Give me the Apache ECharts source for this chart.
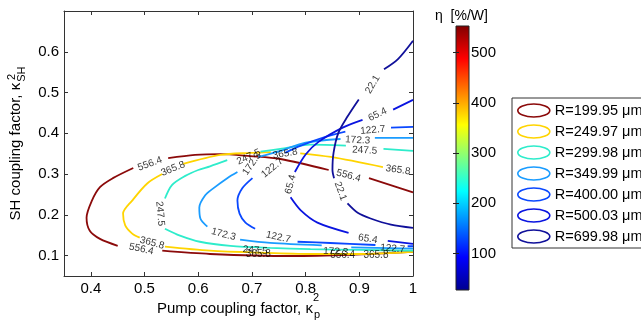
<!DOCTYPE html>
<html>
<head>
<meta charset="utf-8">
<script src="https://cdn.jsdelivr.net/npm/echarts@6.0.0/dist/echarts.min.js"></script>
<style>
html, body { margin: 0; background: #fff; }
#main { width: 641px; height: 329px; }
</style>
</head>
<body>
<div id="main"></div>
<script>
// contour levels (eta, %/W) and the cavity radius of each curve
var radii = ['R=199.95 μm', 'R=249.97 μm', 'R=299.98 μm', 'R=349.99 μm', 'R=400.00 μm', 'R=500.03 μm', 'R=699.98 μm'];
var levels = [556.4, 365.8, 247.5, 172.3, 122.7, 65.4, 22.1];
var xTicks = [0.4, 0.5, 0.6, 0.7, 0.8, 0.9, 1];
var yTicks = [0.1, 0.2, 0.3, 0.4, 0.5, 0.6];
var cbTicks = [100, 200, 300, 400, 500];

// traced contour points [kp2, kSH2], null = gap where the label sits
var c556 = [[1.0, 0.255], [0.918, 0.290], null, [0.843, 0.310], [0.753, 0.337], [0.697, 0.344], [0.641, 0.349], [0.594, 0.347], [0.544, 0.339], null,
    [0.479, 0.315], [0.441, 0.290], [0.417, 0.268], [0.402, 0.235], [0.392, 0.193], [0.398, 0.161], [0.417, 0.141], [0.450, 0.124], null,
    [0.533, 0.112], [0.622, 0.104], [0.772, 0.099], [0.884, 0.102], [1.0, 0.109]];
var c366 = [[0.944, 0.317], [0.847, 0.342], [0.790, 0.351], null, [0.735, 0.354], [0.697, 0.352], [0.641, 0.347], [0.572, 0.325], null,
    [0.533, 0.300], [0.505, 0.277], [0.477, 0.235], [0.460, 0.203], [0.464, 0.174], [0.477, 0.154], [0.491, 0.144], null,
    [0.538, 0.122], [0.622, 0.112], [0.716, 0.107], [0.809, 0.104], [0.903, 0.104], [1.0, 0.109]];
var c248 = [[1.0, 0.357], [0.945, 0.362], null, [0.875, 0.370], [0.809, 0.372], [0.753, 0.362], [0.716, 0.355], null,
    [0.654, 0.334], [0.622, 0.319], [0.600, 0.310], [0.575, 0.295], [0.551, 0.273], [0.538, 0.240], null,
    [0.538, 0.166], [0.566, 0.149], [0.603, 0.134], [0.660, 0.124], [0.734, 0.119], [0.809, 0.116], [0.903, 0.114], [1.0, 0.112]];
var c172 = [[1.0, 0.389], [0.929, 0.389], null, [0.865, 0.386], [0.800, 0.377], [0.753, 0.357], [0.712, 0.342], null,
    [0.673, 0.305], [0.654, 0.290], [0.628, 0.265], [0.613, 0.248], [0.602, 0.218], [0.604, 0.191], [0.617, 0.171], null,
    [0.678, 0.139], [0.734, 0.131], [0.830, 0.125], null, [0.885, 0.120], [1.0, 0.117]];
var c123 = [[1.0, 0.416], [0.959, 0.414], null, [0.874, 0.404], [0.837, 0.391], [0.790, 0.369], [0.762, 0.352], null,
    [0.701, 0.290], [0.682, 0.265], [0.673, 0.235], [0.677, 0.203], [0.688, 0.181], [0.706, 0.166], null,
    [0.785, 0.134], [0.846, 0.131], [0.930, 0.126], null, [0.990, 0.123], [1.0, 0.123]];
var c65 = [[1.0, 0.482], [0.963, 0.458], null, [0.906, 0.433], [0.869, 0.414], [0.824, 0.379], [0.800, 0.348], [0.780, 0.305], null,
    [0.772, 0.243], [0.791, 0.211], [0.822, 0.181], [0.880, 0.156], null, [0.953, 0.136], [1.0, 0.129]];
var c22 = [[1.0, 0.627], [0.972, 0.582], [0.946, 0.557], null, [0.899, 0.483], [0.878, 0.441], [0.861, 0.401], [0.852, 0.352], [0.850, 0.310], [0.853, 0.290], null,
    [0.878, 0.228], [0.897, 0.205], [0.921, 0.191], [0.959, 0.176], [1.0, 0.168]];

// inline contour labels [kp2, kSH2, text]
var labelPts = [
    [0.880, 0.296, '556.4'], [0.510, 0.325, '556.4'], [0.494, 0.116, '556.4'], [0.869, 0.102, '556.4'],
    [0.972, 0.310, '365.8'], [0.553, 0.313, '365.8'], [0.514, 0.131, '365.8'], [0.762, 0.350, '365.8'], [0.712, 0.103, '365.8'], [0.931, 0.102, '365.8'],
    [0.910, 0.358, '247.5'], [0.694, 0.342, '247.5'], [0.529, 0.203, '247.5'], [0.706, 0.113, '247.5'],
    [0.897, 0.383, '172.3'], [0.700, 0.325, '172.3'], [0.647, 0.152, '172.3'], [0.856, 0.110, '172.3'],
    [0.925, 0.408, '122.7'], [0.738, 0.315, '122.7'], [0.749, 0.145, '122.7'], [0.962, 0.117, '122.7'],
    [0.934, 0.446, '65.4'], [0.772, 0.275, '65.4'], [0.916, 0.141, '65.4'],
    [0.925, 0.520, '22.1'], [0.865, 0.258, '22.1']
];
var labelRot = [-15, 20, -12, 0, -8, 22, -15, 10, 0, 0, -3, 25, -85, -5, -3, 55, -15, -3, 5, 40, -12, -5, 25, 75, -10, 60, -70];

var curves = [c556, c366, c248, c172, c123, c65, c22];
var lineColors = ['#8b0a0a', '#ffd400', '#2eeccb', '#1a9cff', '#0a48ff', '#0a14e0', '#10109a'];
var font = 'Liberation Sans, Arial, sans-serif';

function toLine(pts) {
    return pts.map(function(p) { return p ? p : ['-', '-']; });
}

var jet = new echarts.graphic.LinearGradient(0, 1, 0, 0, [
    { offset: 0, color: '#00008f' },
    { offset: 0.125, color: '#0000ff' },
    { offset: 0.375, color: '#00ffff' },
    { offset: 0.625, color: '#ffff00' },
    { offset: 0.875, color: '#ff0000' },
    { offset: 1, color: '#800000' }
]);

var series = [];
var legendData = [];
for (var i = 0; i < curves.length; i++) {
    series.push({
        name: radii[i],
        type: 'line',
        data: toLine(curves[i]),
        showSymbol: false,
        smooth: 0.3,
        connectNulls: false,
        lineStyle: { color: lineColors[i], width: 1.8 },
        itemStyle: { color: lineColors[i] },
        emphasis: { disabled: true },
        z: 3
    });
    legendData.push({
        name: radii[i],
        itemStyle: { color: 'rgba(0,0,0,0)', borderColor: lineColors[i], borderWidth: 1.6 }
    });
}
series.push({
    type: 'scatter',
    symbolSize: 0,
    z: 5,
    data: labelPts.map(function(l, k) {
        return { value: [l[0], l[1]], label: { formatter: l[2], rotate: labelRot[k] } };
    }),
    label: { show: true, position: 'inside', color: '#000', fontSize: 10, fontFamily: font },
    emphasis: { disabled: true },
    silent: true
});

var tickCommon = { inside: true, length: 4, lineStyle: { color: '#333' } };
var lineCommon = { show: true, onZero: false, lineStyle: { color: '#333', width: 1 } };

var myChart = echarts.init(document.getElementById('main'));
var option = {
    animation: false,
    backgroundColor: '#fff',
    textStyle: { fontFamily: font },
    title: {
        text: 'η  [%/W]',
        left: 430, top: 4,
        textStyle: { fontSize: 14, fontWeight: 'normal', color: '#000', fontFamily: font }
    },
    legend: {
        orient: 'vertical',
        left: 512, top: 98,
        data: legendData,
        icon: 'path://M0,10 A20,10 0 1,1 40,10 A20,10 0 1,1 0,10 Z',
        symbolKeepAspect: false,
        itemWidth: 32, itemHeight: 13, itemGap: 6,
        padding: [5, 30, 4, 5],
        borderColor: '#333', borderWidth: 1, backgroundColor: '#fff',
        textStyle: { fontSize: 14.5, color: '#000', fontFamily: font },
        selectedMode: false
    },
    grid: [
        { left: 64, top: 11, width: 349, height: 265, outerBoundsMode: 'none' },
        { left: 456, top: 26, width: 13, height: 264, show: true, backgroundColor: jet, borderColor: '#222', borderWidth: 1, outerBoundsMode: 'none' }
    ],
    xAxis: [
        {
            type: 'value', gridIndex: 0, min: 0.35, max: 1,
            name: 'Pump coupling factor, κ{sub|p}', nameLocation: 'middle', nameGap: 21,
            nameTextStyle: { fontSize: 15, color: '#000', fontFamily: font, rich: { sub: { fontSize: 11, padding: [12, 0, 0, 1], color: '#000', fontFamily: font } } },
            axisLine: lineCommon,
            axisTick: Object.assign({ customValues: xTicks }, tickCommon),
            axisLabel: { customValues: xTicks, fontSize: 15, color: '#000', margin: 5, fontFamily: font },
            splitLine: { show: false }
        },
        {
            type: 'value', gridIndex: 0, min: 0.35, max: 1, position: 'top',
            axisLine: lineCommon,
            axisTick: Object.assign({ customValues: xTicks }, tickCommon),
            axisLabel: { show: false }, splitLine: { show: false }
        },
        { type: 'value', gridIndex: 1, min: 0, max: 1, show: false }
    ],
    yAxis: [
        {
            type: 'value', gridIndex: 0, min: 0.05, max: 0.7,
            name: 'SH coupling factor, κ{sub|SH}', nameLocation: 'middle', nameGap: 30,
            nameTextStyle: { fontSize: 15, color: '#000', fontFamily: font, rich: { sub: { fontSize: 11, padding: [12, 0, 0, 1], color: '#000', fontFamily: font } } },
            axisLine: lineCommon,
            axisTick: Object.assign({ customValues: yTicks }, tickCommon),
            axisLabel: { customValues: yTicks, fontSize: 15, color: '#000', margin: 5, fontFamily: font },
            splitLine: { show: false }
        },
        {
            type: 'value', gridIndex: 0, min: 0.05, max: 0.7, position: 'right',
            axisLine: lineCommon,
            axisTick: Object.assign({ customValues: yTicks }, tickCommon),
            axisLabel: { show: false }, splitLine: { show: false }
        },
        {
            type: 'value', gridIndex: 1, min: 27, max: 553, position: 'right',
            axisLine: { show: false },
            axisTick: { customValues: cbTicks, inside: true, length: 3, lineStyle: { color: '#222' } },
            axisLabel: { customValues: cbTicks, fontSize: 15, color: '#000', margin: 2, fontFamily: font },
            splitLine: { show: false }
        },
        {
            type: 'value', gridIndex: 1, min: 27, max: 553, position: 'left',
            axisLine: { show: false },
            axisTick: { customValues: cbTicks, inside: true, length: 3, lineStyle: { color: '#222' } },
            axisLabel: { show: false }, splitLine: { show: false }
        }
    ],
    graphic: [
        { type: 'text', left: 313, top: 292, style: { text: '2', fill: '#000', font: '11px ' + font } },
        { type: 'text', x: 12, y: 77, rotation: Math.PI / 2, style: { text: '2', fill: '#000', font: '11px ' + font, align: 'center', verticalAlign: 'middle' } }
    ],
    series: series
};
myChart.setOption(option);
</script>
</body>
</html>
